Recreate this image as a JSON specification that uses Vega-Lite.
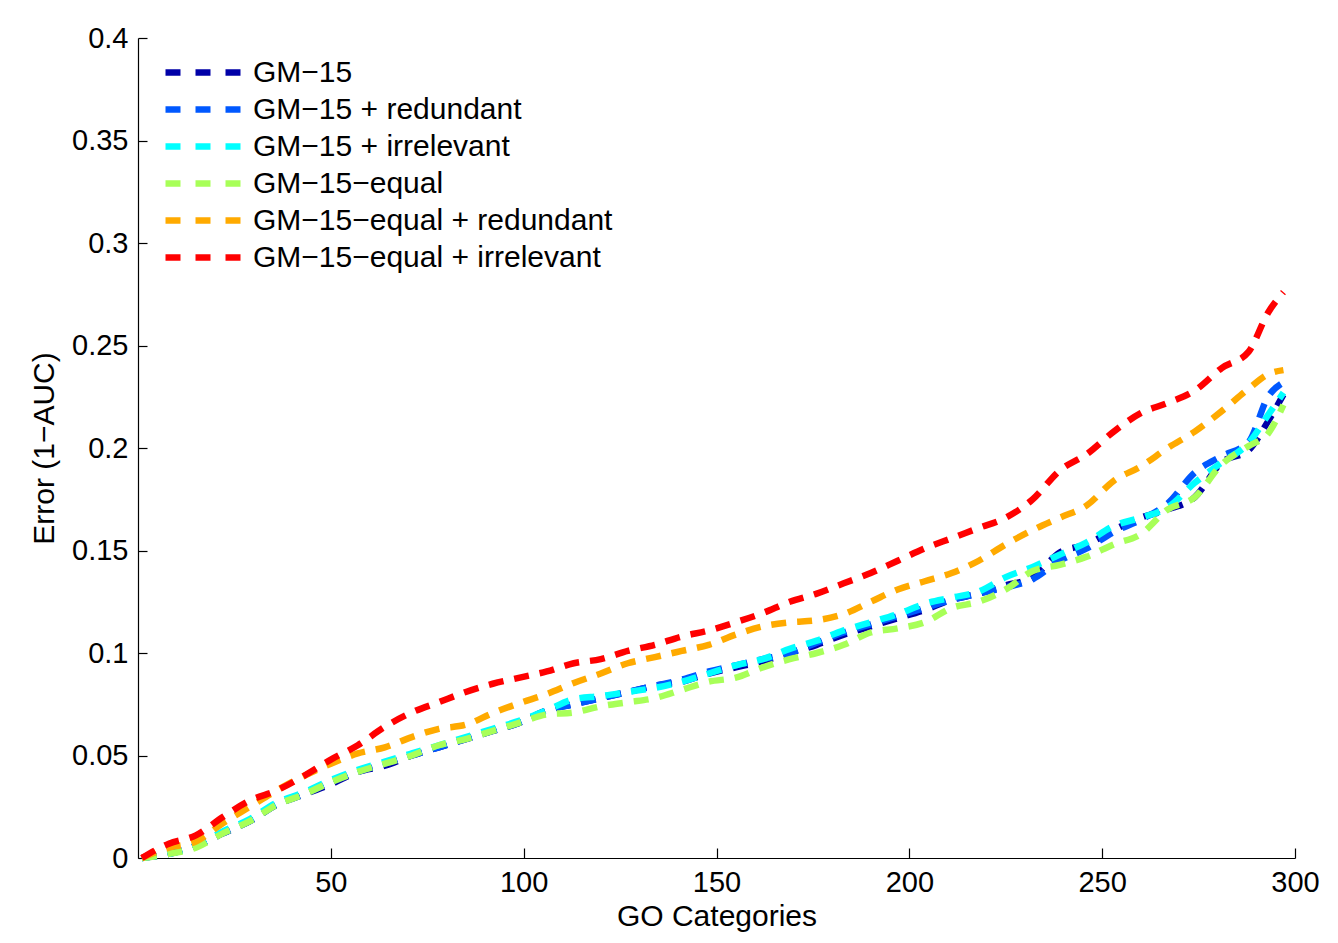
{
  "$schema": "https://vega.github.io/schema/vega-lite/v6.json",
  "autosize": {"type": "none"},
  "width": 1157,
  "height": 820,
  "padding": {"left": 138, "top": 38, "right": 43, "bottom": 85},
  "background": "white",
  "config": {
    "view": {"stroke": null},
    "font": "Liberation Sans",
    "axis": {"labelFont": "Liberation Sans", "titleFont": "Liberation Sans", "labelFontSize": 29, "titleFontSize": 30, "labelColor": "black", "titleColor": "black", "titleFontWeight": "normal", "domainColor": "black", "tickColor": "black", "grid": false, "domainWidth": 1.2, "tickWidth": 1.2}
  },
  "data": {"values": [
{"x":1,"y":0,"s":"GM−15"},{"x":8,"y":0.002,"s":"GM−15"},{"x":15,"y":0.006,"s":"GM−15"},{"x":22,"y":0.012,"s":"GM−15"},{"x":29,"y":0.018,"s":"GM−15"},{"x":36,"y":0.026,"s":"GM−15"},{"x":43,"y":0.031,"s":"GM−15"},{"x":50,"y":0.036,"s":"GM−15"},{"x":57,"y":0.042,"s":"GM−15"},{"x":64,"y":0.045,"s":"GM−15"},{"x":71,"y":0.05,"s":"GM−15"},{"x":78,"y":0.054,"s":"GM−15"},{"x":85,"y":0.058,"s":"GM−15"},{"x":92,"y":0.062,"s":"GM−15"},{"x":99,"y":0.066,"s":"GM−15"},{"x":106,"y":0.072,"s":"GM−15"},{"x":113,"y":0.075,"s":"GM−15"},{"x":120,"y":0.078,"s":"GM−15"},{"x":127,"y":0.081,"s":"GM−15"},{"x":134,"y":0.084,"s":"GM−15"},{"x":141,"y":0.086,"s":"GM−15"},{"x":148,"y":0.09,"s":"GM−15"},{"x":155,"y":0.093,"s":"GM−15"},{"x":162,"y":0.096,"s":"GM−15"},{"x":169,"y":0.1,"s":"GM−15"},{"x":176,"y":0.104,"s":"GM−15"},{"x":183,"y":0.109,"s":"GM−15"},{"x":190,"y":0.113,"s":"GM−15"},{"x":197,"y":0.117,"s":"GM−15"},{"x":204,"y":0.121,"s":"GM−15"},{"x":211,"y":0.126,"s":"GM−15"},{"x":218,"y":0.129,"s":"GM−15"},{"x":225,"y":0.133,"s":"GM−15"},{"x":232,"y":0.137,"s":"GM−15"},{"x":239,"y":0.149,"s":"GM−15"},{"x":246,"y":0.153,"s":"GM−15"},{"x":253,"y":0.16,"s":"GM−15"},{"x":260,"y":0.166,"s":"GM−15"},{"x":267,"y":0.17,"s":"GM−15"},{"x":274,"y":0.176,"s":"GM−15"},{"x":281,"y":0.193,"s":"GM−15"},{"x":288,"y":0.199,"s":"GM−15"},{"x":293,"y":0.213,"s":"GM−15"},{"x":297,"y":0.226,"s":"GM−15"},
{"x":1,"y":0,"s":"GM−15 + redundant"},{"x":8,"y":0.002,"s":"GM−15 + redundant"},{"x":15,"y":0.006,"s":"GM−15 + redundant"},{"x":22,"y":0.012,"s":"GM−15 + redundant"},{"x":29,"y":0.018,"s":"GM−15 + redundant"},{"x":36,"y":0.026,"s":"GM−15 + redundant"},{"x":43,"y":0.031,"s":"GM−15 + redundant"},{"x":50,"y":0.037,"s":"GM−15 + redundant"},{"x":57,"y":0.042,"s":"GM−15 + redundant"},{"x":64,"y":0.046,"s":"GM−15 + redundant"},{"x":71,"y":0.05,"s":"GM−15 + redundant"},{"x":78,"y":0.054,"s":"GM−15 + redundant"},{"x":85,"y":0.058,"s":"GM−15 + redundant"},{"x":92,"y":0.062,"s":"GM−15 + redundant"},{"x":99,"y":0.066,"s":"GM−15 + redundant"},{"x":106,"y":0.072,"s":"GM−15 + redundant"},{"x":113,"y":0.075,"s":"GM−15 + redundant"},{"x":120,"y":0.078,"s":"GM−15 + redundant"},{"x":127,"y":0.081,"s":"GM−15 + redundant"},{"x":134,"y":0.084,"s":"GM−15 + redundant"},{"x":141,"y":0.087,"s":"GM−15 + redundant"},{"x":148,"y":0.091,"s":"GM−15 + redundant"},{"x":155,"y":0.094,"s":"GM−15 + redundant"},{"x":162,"y":0.097,"s":"GM−15 + redundant"},{"x":169,"y":0.1,"s":"GM−15 + redundant"},{"x":176,"y":0.105,"s":"GM−15 + redundant"},{"x":183,"y":0.11,"s":"GM−15 + redundant"},{"x":190,"y":0.114,"s":"GM−15 + redundant"},{"x":197,"y":0.118,"s":"GM−15 + redundant"},{"x":204,"y":0.122,"s":"GM−15 + redundant"},{"x":211,"y":0.126,"s":"GM−15 + redundant"},{"x":218,"y":0.129,"s":"GM−15 + redundant"},{"x":225,"y":0.132,"s":"GM−15 + redundant"},{"x":232,"y":0.136,"s":"GM−15 + redundant"},{"x":239,"y":0.145,"s":"GM−15 + redundant"},{"x":246,"y":0.151,"s":"GM−15 + redundant"},{"x":253,"y":0.159,"s":"GM−15 + redundant"},{"x":260,"y":0.165,"s":"GM−15 + redundant"},{"x":267,"y":0.173,"s":"GM−15 + redundant"},{"x":274,"y":0.188,"s":"GM−15 + redundant"},{"x":281,"y":0.196,"s":"GM−15 + redundant"},{"x":288,"y":0.203,"s":"GM−15 + redundant"},{"x":293,"y":0.225,"s":"GM−15 + redundant"},{"x":297,"y":0.232,"s":"GM−15 + redundant"},
{"x":1,"y":0,"s":"GM−15 + irrelevant"},{"x":8,"y":0.002,"s":"GM−15 + irrelevant"},{"x":15,"y":0.006,"s":"GM−15 + irrelevant"},{"x":22,"y":0.013,"s":"GM−15 + irrelevant"},{"x":29,"y":0.019,"s":"GM−15 + irrelevant"},{"x":36,"y":0.027,"s":"GM−15 + irrelevant"},{"x":43,"y":0.032,"s":"GM−15 + irrelevant"},{"x":50,"y":0.038,"s":"GM−15 + irrelevant"},{"x":57,"y":0.043,"s":"GM−15 + irrelevant"},{"x":64,"y":0.047,"s":"GM−15 + irrelevant"},{"x":71,"y":0.051,"s":"GM−15 + irrelevant"},{"x":78,"y":0.055,"s":"GM−15 + irrelevant"},{"x":85,"y":0.059,"s":"GM−15 + irrelevant"},{"x":92,"y":0.063,"s":"GM−15 + irrelevant"},{"x":99,"y":0.067,"s":"GM−15 + irrelevant"},{"x":106,"y":0.072,"s":"GM−15 + irrelevant"},{"x":113,"y":0.0775,"s":"GM−15 + irrelevant"},{"x":120,"y":0.079,"s":"GM−15 + irrelevant"},{"x":127,"y":0.081,"s":"GM−15 + irrelevant"},{"x":134,"y":0.083,"s":"GM−15 + irrelevant"},{"x":141,"y":0.086,"s":"GM−15 + irrelevant"},{"x":148,"y":0.09,"s":"GM−15 + irrelevant"},{"x":155,"y":0.094,"s":"GM−15 + irrelevant"},{"x":162,"y":0.097,"s":"GM−15 + irrelevant"},{"x":169,"y":0.102,"s":"GM−15 + irrelevant"},{"x":176,"y":0.106,"s":"GM−15 + irrelevant"},{"x":183,"y":0.111,"s":"GM−15 + irrelevant"},{"x":190,"y":0.115,"s":"GM−15 + irrelevant"},{"x":197,"y":0.119,"s":"GM−15 + irrelevant"},{"x":204,"y":0.124,"s":"GM−15 + irrelevant"},{"x":211,"y":0.127,"s":"GM−15 + irrelevant"},{"x":218,"y":0.13,"s":"GM−15 + irrelevant"},{"x":225,"y":0.137,"s":"GM−15 + irrelevant"},{"x":232,"y":0.142,"s":"GM−15 + irrelevant"},{"x":239,"y":0.148,"s":"GM−15 + irrelevant"},{"x":246,"y":0.154,"s":"GM−15 + irrelevant"},{"x":253,"y":0.162,"s":"GM−15 + irrelevant"},{"x":260,"y":0.166,"s":"GM−15 + irrelevant"},{"x":267,"y":0.171,"s":"GM−15 + irrelevant"},{"x":274,"y":0.183,"s":"GM−15 + irrelevant"},{"x":281,"y":0.193,"s":"GM−15 + irrelevant"},{"x":288,"y":0.2025,"s":"GM−15 + irrelevant"},{"x":293,"y":0.216,"s":"GM−15 + irrelevant"},{"x":297,"y":0.227,"s":"GM−15 + irrelevant"},
{"x":1,"y":0,"s":"GM−15−equal"},{"x":8,"y":0.002,"s":"GM−15−equal"},{"x":15,"y":0.005,"s":"GM−15−equal"},{"x":22,"y":0.012,"s":"GM−15−equal"},{"x":29,"y":0.018,"s":"GM−15−equal"},{"x":36,"y":0.026,"s":"GM−15−equal"},{"x":43,"y":0.031,"s":"GM−15−equal"},{"x":50,"y":0.037,"s":"GM−15−equal"},{"x":57,"y":0.042,"s":"GM−15−equal"},{"x":64,"y":0.046,"s":"GM−15−equal"},{"x":71,"y":0.05,"s":"GM−15−equal"},{"x":78,"y":0.055,"s":"GM−15−equal"},{"x":85,"y":0.058,"s":"GM−15−equal"},{"x":92,"y":0.062,"s":"GM−15−equal"},{"x":99,"y":0.066,"s":"GM−15−equal"},{"x":106,"y":0.07,"s":"GM−15−equal"},{"x":113,"y":0.071,"s":"GM−15−equal"},{"x":120,"y":0.074,"s":"GM−15−equal"},{"x":127,"y":0.076,"s":"GM−15−equal"},{"x":134,"y":0.078,"s":"GM−15−equal"},{"x":141,"y":0.082,"s":"GM−15−equal"},{"x":148,"y":0.086,"s":"GM−15−equal"},{"x":155,"y":0.088,"s":"GM−15−equal"},{"x":162,"y":0.093,"s":"GM−15−equal"},{"x":169,"y":0.097,"s":"GM−15−equal"},{"x":176,"y":0.1,"s":"GM−15−equal"},{"x":183,"y":0.104,"s":"GM−15−equal"},{"x":190,"y":0.11,"s":"GM−15−equal"},{"x":197,"y":0.112,"s":"GM−15−equal"},{"x":204,"y":0.115,"s":"GM−15−equal"},{"x":211,"y":0.122,"s":"GM−15−equal"},{"x":218,"y":0.125,"s":"GM−15−equal"},{"x":225,"y":0.131,"s":"GM−15−equal"},{"x":232,"y":0.14,"s":"GM−15−equal"},{"x":239,"y":0.143,"s":"GM−15−equal"},{"x":246,"y":0.147,"s":"GM−15−equal"},{"x":253,"y":0.153,"s":"GM−15−equal"},{"x":260,"y":0.158,"s":"GM−15−equal"},{"x":267,"y":0.17,"s":"GM−15−equal"},{"x":274,"y":0.176,"s":"GM−15−equal"},{"x":281,"y":0.192,"s":"GM−15−equal"},{"x":288,"y":0.201,"s":"GM−15−equal"},{"x":293,"y":0.207,"s":"GM−15−equal"},{"x":297,"y":0.221,"s":"GM−15−equal"},
{"x":1,"y":0,"s":"GM−15−equal + redundant"},{"x":8,"y":0.005,"s":"GM−15−equal + redundant"},{"x":15,"y":0.008,"s":"GM−15−equal + redundant"},{"x":22,"y":0.017,"s":"GM−15−equal + redundant"},{"x":29,"y":0.025,"s":"GM−15−equal + redundant"},{"x":36,"y":0.033,"s":"GM−15−equal + redundant"},{"x":43,"y":0.04,"s":"GM−15−equal + redundant"},{"x":50,"y":0.046,"s":"GM−15−equal + redundant"},{"x":57,"y":0.051,"s":"GM−15−equal + redundant"},{"x":64,"y":0.054,"s":"GM−15−equal + redundant"},{"x":71,"y":0.059,"s":"GM−15−equal + redundant"},{"x":78,"y":0.063,"s":"GM−15−equal + redundant"},{"x":85,"y":0.065,"s":"GM−15−equal + redundant"},{"x":92,"y":0.0707,"s":"GM−15−equal + redundant"},{"x":99,"y":0.0756,"s":"GM−15−equal + redundant"},{"x":106,"y":0.08,"s":"GM−15−equal + redundant"},{"x":113,"y":0.0854,"s":"GM−15−equal + redundant"},{"x":120,"y":0.09,"s":"GM−15−equal + redundant"},{"x":127,"y":0.095,"s":"GM−15−equal + redundant"},{"x":134,"y":0.098,"s":"GM−15−equal + redundant"},{"x":141,"y":0.101,"s":"GM−15−equal + redundant"},{"x":148,"y":0.104,"s":"GM−15−equal + redundant"},{"x":155,"y":0.109,"s":"GM−15−equal + redundant"},{"x":162,"y":0.113,"s":"GM−15−equal + redundant"},{"x":169,"y":0.115,"s":"GM−15−equal + redundant"},{"x":176,"y":0.116,"s":"GM−15−equal + redundant"},{"x":183,"y":0.119,"s":"GM−15−equal + redundant"},{"x":190,"y":0.125,"s":"GM−15−equal + redundant"},{"x":197,"y":0.131,"s":"GM−15−equal + redundant"},{"x":204,"y":0.135,"s":"GM−15−equal + redundant"},{"x":211,"y":0.139,"s":"GM−15−equal + redundant"},{"x":218,"y":0.145,"s":"GM−15−equal + redundant"},{"x":225,"y":0.153,"s":"GM−15−equal + redundant"},{"x":232,"y":0.16,"s":"GM−15−equal + redundant"},{"x":239,"y":0.166,"s":"GM−15−equal + redundant"},{"x":246,"y":0.172,"s":"GM−15−equal + redundant"},{"x":253,"y":0.184,"s":"GM−15−equal + redundant"},{"x":260,"y":0.191,"s":"GM−15−equal + redundant"},{"x":267,"y":0.2,"s":"GM−15−equal + redundant"},{"x":274,"y":0.208,"s":"GM−15−equal + redundant"},{"x":281,"y":0.218,"s":"GM−15−equal + redundant"},{"x":288,"y":0.229,"s":"GM−15−equal + redundant"},{"x":293,"y":0.236,"s":"GM−15−equal + redundant"},{"x":297,"y":0.238,"s":"GM−15−equal + redundant"},
{"x":1,"y":0,"s":"GM−15−equal + irrelevant"},{"x":8,"y":0.007,"s":"GM−15−equal + irrelevant"},{"x":15,"y":0.011,"s":"GM−15−equal + irrelevant"},{"x":22,"y":0.02,"s":"GM−15−equal + irrelevant"},{"x":29,"y":0.028,"s":"GM−15−equal + irrelevant"},{"x":36,"y":0.033,"s":"GM−15−equal + irrelevant"},{"x":43,"y":0.04,"s":"GM−15−equal + irrelevant"},{"x":50,"y":0.048,"s":"GM−15−equal + irrelevant"},{"x":57,"y":0.055,"s":"GM−15−equal + irrelevant"},{"x":64,"y":0.064,"s":"GM−15−equal + irrelevant"},{"x":71,"y":0.071,"s":"GM−15−equal + irrelevant"},{"x":78,"y":0.076,"s":"GM−15−equal + irrelevant"},{"x":85,"y":0.081,"s":"GM−15−equal + irrelevant"},{"x":92,"y":0.085,"s":"GM−15−equal + irrelevant"},{"x":99,"y":0.088,"s":"GM−15−equal + irrelevant"},{"x":106,"y":0.091,"s":"GM−15−equal + irrelevant"},{"x":113,"y":0.095,"s":"GM−15−equal + irrelevant"},{"x":120,"y":0.097,"s":"GM−15−equal + irrelevant"},{"x":127,"y":0.101,"s":"GM−15−equal + irrelevant"},{"x":134,"y":0.104,"s":"GM−15−equal + irrelevant"},{"x":141,"y":0.108,"s":"GM−15−equal + irrelevant"},{"x":148,"y":0.111,"s":"GM−15−equal + irrelevant"},{"x":155,"y":0.115,"s":"GM−15−equal + irrelevant"},{"x":162,"y":0.1195,"s":"GM−15−equal + irrelevant"},{"x":169,"y":0.125,"s":"GM−15−equal + irrelevant"},{"x":176,"y":0.129,"s":"GM−15−equal + irrelevant"},{"x":183,"y":0.134,"s":"GM−15−equal + irrelevant"},{"x":190,"y":0.139,"s":"GM−15−equal + irrelevant"},{"x":197,"y":0.145,"s":"GM−15−equal + irrelevant"},{"x":204,"y":0.151,"s":"GM−15−equal + irrelevant"},{"x":211,"y":0.156,"s":"GM−15−equal + irrelevant"},{"x":218,"y":0.161,"s":"GM−15−equal + irrelevant"},{"x":225,"y":0.166,"s":"GM−15−equal + irrelevant"},{"x":232,"y":0.175,"s":"GM−15−equal + irrelevant"},{"x":239,"y":0.189,"s":"GM−15−equal + irrelevant"},{"x":246,"y":0.197,"s":"GM−15−equal + irrelevant"},{"x":253,"y":0.208,"s":"GM−15−equal + irrelevant"},{"x":260,"y":0.217,"s":"GM−15−equal + irrelevant"},{"x":267,"y":0.222,"s":"GM−15−equal + irrelevant"},{"x":274,"y":0.228,"s":"GM−15−equal + irrelevant"},{"x":281,"y":0.239,"s":"GM−15−equal + irrelevant"},{"x":288,"y":0.247,"s":"GM−15−equal + irrelevant"},{"x":293,"y":0.266,"s":"GM−15−equal + irrelevant"},{"x":297,"y":0.276,"s":"GM−15−equal + irrelevant"}
  ]},
  "mark": {"type": "line", "strokeWidth": 6.5, "strokeDash": [15, 11], "strokeCap": "butt", "interpolate": "monotone"},
  "encoding": {
    "x": {"field": "x", "type": "quantitative", "scale": {"domain": [0, 300], "nice": false, "zero": false},
      "axis": {"title": "GO Categories", "values": [50, 100, 150, 200, 250, 300], "tickSize": -10, "labelPadding": 20, "titlePadding": 4, "labelFlush": false}},
    "y": {"field": "y", "type": "quantitative", "scale": {"domain": [0, 0.4], "nice": false},
      "axis": {"title": "Error (1−AUC)", "values": [0, 0.05, 0.1, 0.15, 0.2, 0.25, 0.3, 0.35, 0.4], "format": "~g", "tickSize": -9, "labelPadding": 19, "titlePadding": 12, "labelFlush": false}},
    "color": {"field": "s", "type": "nominal",
      "scale": {"domain": ["GM−15", "GM−15 + redundant", "GM−15 + irrelevant", "GM−15−equal", "GM−15−equal + redundant", "GM−15−equal + irrelevant"],
                "range": ["#0000a8", "#0058ff", "#00ffff", "#a8ff58", "#ffaa00", "#ff0000"]},
      "legend": {"title": null, "orient": "none", "legendX": 24, "legendY": 16, "padding": 0, "symbolType": "stroke", "symbolSize": 5625, "symbolStrokeWidth": 6.5, "symbolDash": [15, 15], "labelFont": "Liberation Sans", "labelFontSize": 30, "labelColor": "black", "labelOffset": 9, "rowPadding": 0, "clipHeight": 37, "labelLimit": 700}}
  }
}
